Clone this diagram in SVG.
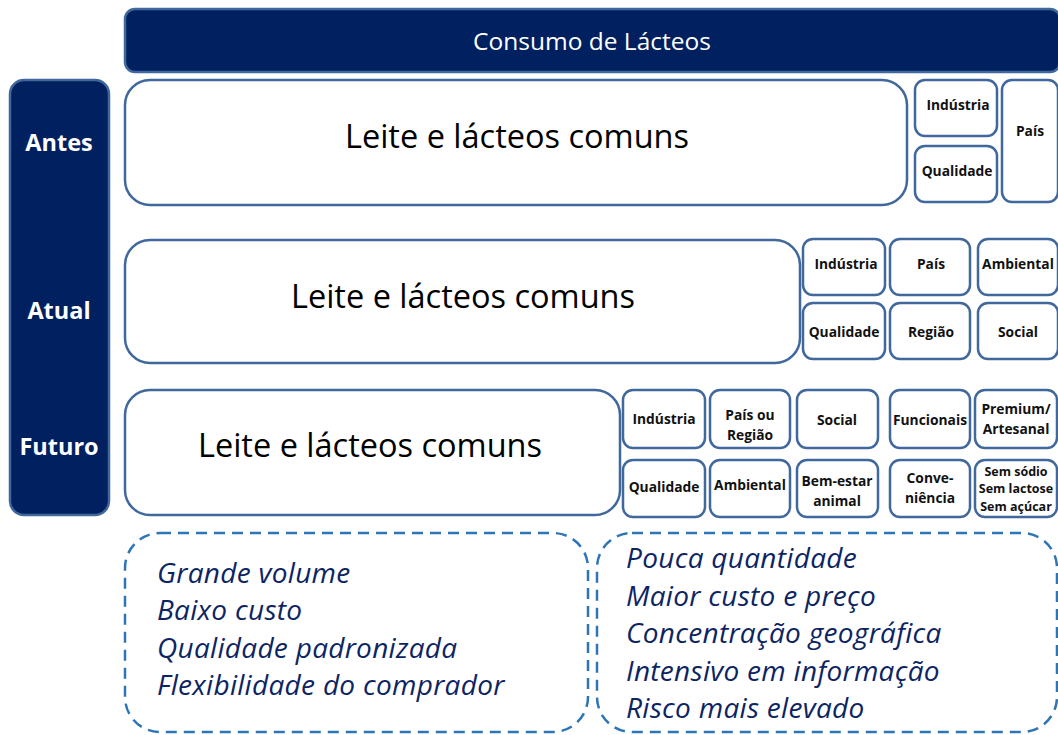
<svg xmlns="http://www.w3.org/2000/svg" width="1058" height="735" viewBox="0 0 1058 735">
<style>
.dark{fill:#002060;stroke:#41689c;stroke-width:2.5}
.big{fill:#fff;stroke:#41689c;stroke-width:2.5}
.sm{fill:#fff;stroke:#41689c;stroke-width:2.5}
.dash{fill:#fff;stroke:#2e75b6;stroke-width:2.5;stroke-dasharray:11 7}
.t{font-family:"Open Sans","Liberation Sans",Arial,sans-serif}
.title{font-size:24.5px;fill:#fff;text-anchor:middle}
.row{font-size:23.5px;font-weight:bold;fill:#fff;text-anchor:middle}
.lg{font-size:32.5px;fill:#000;text-anchor:middle}
.s{font-size:13.8px;font-weight:bold;fill:#111;text-anchor:middle}
.xs{font-size:12.5px;font-weight:bold;fill:#111;text-anchor:middle}
.it{font-size:28px;font-style:italic;fill:#0d2463;letter-spacing:0.3px}
</style>
<g id="title"><rect class="dark" x="125" y="9" width="935" height="63" rx="10"/><text class="t title" x="592" y="50">Consumo de Lácteos</text></g>
<g id="timeline"><rect class="dark" x="10" y="80" width="99" height="435" rx="14"/>
<text class="t row" x="59" y="151">Antes</text>
<text class="t row" x="59" y="319">Atual</text>
<text class="t row" x="59" y="455">Futuro</text></g>
<g id="antes">
<rect class="big" x="125" y="80" width="782" height="125" rx="25"/><text class="t lg" x="517" y="148">Leite e lácteos comuns</text>
<rect class="sm" x="915" y="80" width="82" height="56" rx="10"/><text class="t s" x="958" y="110">Indústria</text>
<rect class="sm" x="915" y="146" width="82" height="56" rx="10"/><text class="t s" x="957" y="176">Qualidade</text>
<rect class="sm" x="1002" y="80" width="56" height="122" rx="10"/><text class="t s" x="1030" y="136">País</text>
</g>
<g id="atual">
<rect class="big" x="125" y="240" width="675" height="123" rx="25"/><text class="t lg" x="463" y="308">Leite e lácteos comuns</text>
<rect class="sm" x="803" y="239" width="82" height="56" rx="10"/><text class="t s" x="846" y="269">Indústria</text>
<rect class="sm" x="890" y="239" width="80" height="56" rx="10"/><text class="t s" x="931" y="269">País</text>
<rect class="sm" x="978" y="239" width="80" height="56" rx="10"/><text class="t s" x="1018" y="269">Ambiental</text>
<rect class="sm" x="803" y="303" width="82" height="56" rx="10"/><text class="t s" x="844" y="337">Qualidade</text>
<rect class="sm" x="890" y="303" width="80" height="56" rx="10"/><text class="t s" x="931" y="337">Região</text>
<rect class="sm" x="978" y="303" width="80" height="56" rx="10"/><text class="t s" x="1018" y="337">Social</text>
</g>
<g id="futuro">
<rect class="big" x="125" y="390" width="495" height="125" rx="25"/><text class="t lg" x="370" y="457">Leite e lácteos comuns</text>
<rect class="sm" x="623" y="390" width="82" height="58" rx="10"/><text class="t s" x="664" y="424">Indústria</text>
<rect class="sm" x="710" y="390" width="80" height="58" rx="10"/><text class="t s" x="750" y="420">País ou</text><text class="t s" x="750" y="440">Região</text>
<rect class="sm" x="797" y="390" width="81" height="58" rx="10"/><text class="t s" x="837" y="425">Social</text>
<rect class="sm" x="890" y="390" width="80" height="58" rx="10"/><text class="t s" x="930" y="425">Funcionais</text>
<rect class="sm" x="975" y="390" width="82" height="58" rx="10"/><text class="t s" x="1016" y="414">Premium/</text><text class="t s" x="1016" y="434">Artesanal</text>
<rect class="sm" x="623" y="460" width="82" height="57" rx="10"/><text class="t s" x="664" y="492">Qualidade</text>
<rect class="sm" x="710" y="460" width="80" height="57" rx="10"/><text class="t s" x="750" y="490">Ambiental</text>
<rect class="sm" x="797" y="460" width="81" height="57" rx="10"/><text class="t s" x="837" y="486">Bem-estar</text><text class="t s" x="837" y="506">animal</text>
<rect class="sm" x="890" y="460" width="80" height="57" rx="10"/><text class="t s" x="930" y="483">Conve-</text><text class="t s" x="930" y="503">niência</text>
<rect class="sm" x="975" y="460" width="82" height="57" rx="10"/><text class="t xs" x="1016" y="476">Sem sódio</text><text class="t xs" x="1016" y="493">Sem lactose</text><text class="t xs" x="1016" y="511">Sem açúcar</text>
</g>
<g id="commodity">
<rect class="dash" x="125" y="533" width="463" height="199" rx="35"/>
<text class="t it" x="157" y="583">Grande volume</text>
<text class="t it" x="157" y="620">Baixo custo</text>
<text class="t it" x="157" y="658">Qualidade padronizada</text>
<text class="t it" x="157" y="695">Flexibilidade do comprador</text>
</g>
<g id="diferenciado">
<rect class="dash" x="597" y="533" width="460" height="199" rx="35"/>
<text class="t it" x="626" y="568">Pouca quantidade</text>
<text class="t it" x="626" y="606">Maior custo e preço</text>
<text class="t it" x="626" y="643">Concentração geográfica</text>
<text class="t it" x="626" y="681">Intensivo em informação</text>
<text class="t it" x="626" y="718">Risco mais elevado</text>
</g>
<g id="connectors"></g>
</svg>
